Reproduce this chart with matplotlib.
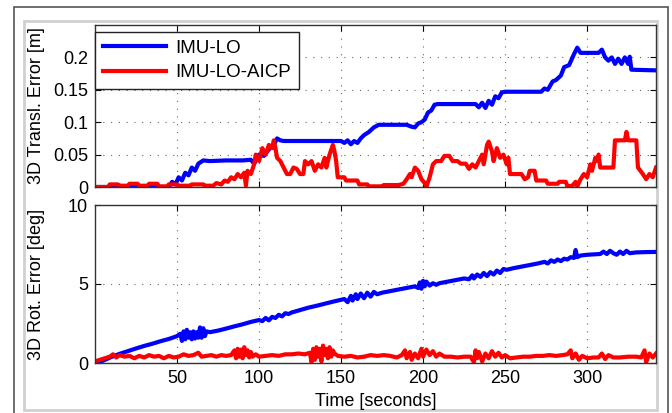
import matplotlib
matplotlib.use("Agg")
import matplotlib.pyplot as plt
import matplotlib.patches as patches

plt.rcParams['font.family'] = ['Liberation Sans', 'DejaVu Sans']
plt.rcParams['font.size'] = 13

# Traslacion 3D (t [s], error [m])
transl_imu_lo = [
    (0, 0), (45, 0), (47, 0.008), (49, 0.004), (51, 0.015), (53, 0.01), (55, 0.022),
    (57, 0.018), (59, 0.03), (61, 0.025), (63, 0.036), (66, 0.041), (70, 0.04),
    (80, 0.041), (90, 0.041), (95, 0.042), (97, 0.036), (100, 0.05), (103, 0.048),
    (106, 0.058), (109, 0.065), (111, 0.075), (113, 0.072), (115, 0.071), (130, 0.071),
    (150, 0.071), (152, 0.068), (154, 0.072), (156, 0.066), (158, 0.071), (160, 0.068),
    (162, 0.075), (164, 0.08), (167, 0.085), (170, 0.092), (173, 0.096), (190, 0.096),
    (193, 0.093), (195, 0.092), (197, 0.098), (199, 0.1), (201, 0.104), (203, 0.115),
    (205, 0.118), (207, 0.127), (209, 0.128), (232, 0.128), (234, 0.123), (236, 0.13),
    (238, 0.122), (240, 0.133), (242, 0.127), (244, 0.14), (246, 0.137), (248, 0.146),
    (250, 0.147), (272, 0.147), (274, 0.152), (276, 0.15), (279, 0.163), (281, 0.165),
    (284, 0.172), (286, 0.185), (289, 0.188), (292, 0.205), (294, 0.215), (296, 0.207),
    (307, 0.207), (309, 0.212), (311, 0.2), (313, 0.195), (315, 0.2), (317, 0.19),
    (319, 0.198), (321, 0.19), (323, 0.2), (325, 0.19), (326, 0.201), (327, 0.181),
    (342, 0.18),
]
transl_imu_lo_aicp = [
    (0, 0), (8, 0), (9, 0.004), (14, 0.004), (15, 0.002), (20, 0.002), (21, 0.005),
    (26, 0.005), (27, 0.002), (32, 0.002), (33, 0.005), (38, 0.005), (39, 0.001),
    (44, 0.001), (45, 0.004), (50, 0.004), (51, 0.002), (58, 0.002), (59, 0.004),
    (66, 0.004), (67, 0.002), (72, 0.002), (74, 0.006), (77, 0.004), (79, 0.01),
    (81, 0.008), (83, 0.015), (85, 0.012), (87, 0.02), (89, 0.015), (91, 0.022),
    (92, 0.002), (93, 0.025), (95, 0.02), (97, 0.035), (98, 0.05), (100, 0.04),
    (102, 0.06), (104, 0.05), (106, 0.065), (108, 0.06), (109, 0.072), (110, 0.06),
    (111, 0.045), (113, 0.04), (115, 0.03), (117, 0.02), (119, 0.02), (121, 0.03),
    (123, 0.028), (125, 0.02), (127, 0.02), (128, 0.04), (130, 0.035), (132, 0.04),
    (134, 0.025), (136, 0.035), (138, 0.03), (140, 0.045), (141, 0.03), (143, 0.05),
    (145, 0.065), (146, 0.055), (147, 0.04), (148, 0.015), (152, 0.015), (153, 0.01),
    (160, 0.01), (161, 0.004), (166, 0.004), (167, 0.001), (175, 0.001), (176, 0.003),
    (185, 0.003), (188, 0.005), (190, 0.012), (192, 0.02), (193, 0.015), (195, 0.03),
    (197, 0.025), (199, 0.012), (201, 0.006), (202, 0), (204, 0.015), (206, 0.035),
    (208, 0.04), (211, 0.04), (213, 0.048), (216, 0.048), (218, 0.04), (221, 0.04),
    (223, 0.036), (226, 0.036), (228, 0.028), (230, 0.035), (232, 0.03), (234, 0.04),
    (236, 0.05), (237, 0.035), (239, 0.065), (240, 0.07), (242, 0.055), (243, 0.04),
    (245, 0.06), (247, 0.045), (249, 0.05), (251, 0.035), (252, 0.045), (253, 0.02),
    (260, 0.02), (262, 0.012), (264, 0.015), (265, 0.025), (268, 0.025), (269, 0.01),
    (275, 0.01), (276, 0.005), (282, 0.005), (283, 0.008), (287, 0.008), (288, 0.001),
    (291, 0.002), (293, 0.008), (294, 0.001), (296, 0.012), (298, 0.02), (300, 0.015),
    (302, 0.035), (303, 0.025), (305, 0.045), (306, 0.04), (307, 0.05), (308, 0.03),
    (316, 0.03), (317, 0.072), (323, 0.072), (324, 0.085), (325, 0.072), (330, 0.072),
    (331, 0.03), (334, 0.02), (336, 0.012), (338, 0.02), (340, 0.015), (342, 0.03),
]

# Rotacion 3D (t [s], error [deg])
rot_imu_lo = [
    (0, 0), (5, 0.15), (10, 0.38), (15, 0.58), (20, 0.75), (25, 0.92), (30, 1.08),
    (35, 1.22), (40, 1.38), (45, 1.52), (50, 1.7), (52, 1.85), (53, 1.4), (54, 2.0),
    (55, 1.5), (56, 2.1), (57, 1.6), (58, 1.95), (59, 1.5), (60, 2.0), (61, 1.55),
    (62, 1.95), (63, 1.6), (64, 2.25), (65, 1.6), (66, 2.2), (67, 1.7), (68, 2.0),
    (70, 1.95), (75, 2.05), (80, 2.18), (85, 2.32), (90, 2.45), (95, 2.6), (100, 2.72),
    (102, 2.65), (104, 2.85), (106, 2.7), (108, 2.92), (110, 2.85), (112, 3.05),
    (114, 2.95), (116, 3.15), (118, 3.1), (120, 3.2), (125, 3.35), (130, 3.5),
    (135, 3.62), (140, 3.75), (145, 3.88), (150, 4.0), (152, 4.05), (154, 3.85),
    (156, 4.25), (157, 3.95), (159, 4.35), (160, 4.05), (162, 4.4), (164, 4.1),
    (166, 4.45), (168, 4.2), (170, 4.5), (172, 4.35), (175, 4.45), (180, 4.55),
    (185, 4.65), (190, 4.75), (195, 4.85), (197, 4.75), (198, 5.1), (199, 4.7),
    (200, 5.2), (201, 4.85), (202, 5.15), (204, 4.9), (206, 5.05), (208, 4.95),
    (210, 5.05), (215, 5.15), (220, 5.25), (225, 5.35), (228, 5.3), (230, 5.55),
    (231, 5.35), (233, 5.6), (235, 5.45), (237, 5.7), (239, 5.5), (241, 5.75),
    (243, 5.6), (245, 5.85), (247, 5.7), (249, 5.95), (251, 5.9), (255, 6.0),
    (260, 6.1), (265, 6.2), (270, 6.3), (274, 6.4), (276, 6.3), (278, 6.5), (280, 6.4),
    (282, 6.55), (284, 6.45), (286, 6.6), (288, 6.55), (290, 6.7), (292, 6.65),
    (293, 7.15), (294, 6.7), (296, 6.8), (300, 6.85), (305, 6.88), (308, 6.9),
    (310, 7.05), (312, 6.9), (314, 7.1), (316, 6.95), (318, 6.85), (320, 7.05),
    (322, 6.9), (324, 7.1), (326, 6.95), (330, 7.0), (336, 7.02), (342, 7.03),
]
rot_imu_lo_aicp = [
    (0, 0.1), (3, 0.2), (6, 0.3), (9, 0.4), (11, 0.55), (13, 0.35), (15, 0.5),
    (18, 0.4), (21, 0.45), (24, 0.3), (27, 0.45), (30, 0.35), (33, 0.5), (36, 0.4),
    (39, 0.45), (42, 0.3), (45, 0.45), (48, 0.35), (51, 0.4), (54, 0.55), (57, 0.45),
    (60, 0.5), (63, 0.65), (65, 0.4), (68, 0.45), (71, 0.5), (74, 0.4), (77, 0.5),
    (80, 0.45), (83, 0.5), (85, 0.8), (86, 0.3), (87, 0.9), (88, 0.4), (89, 0.85),
    (90, 0.3), (91, 1.0), (92, 0.5), (93, 0.8), (94, 0.35), (95, 0.7), (96, 0.4),
    (98, 0.55), (100, 0.4), (104, 0.45), (108, 0.5), (112, 0.45), (116, 0.55),
    (120, 0.55), (124, 0.6), (128, 0.55), (131, 0.65), (132, 0.05), (133, 0.9),
    (134, 0.2), (135, 1.0), (136, 0.4), (137, 0.9), (138, 0.1), (139, 1.1), (140, 0.5),
    (141, 0.9), (142, 0.3), (143, 1.0), (144, 0.4), (145, 0.8), (146, 0.6), (148, 0.45),
    (152, 0.4), (156, 0.45), (160, 0.35), (164, 0.4), (168, 0.5), (172, 0.45),
    (176, 0.5), (180, 0.45), (184, 0.35), (187, 0.5), (189, 0.8), (190, 0.3),
    (192, 0.7), (193, 0.2), (195, 0.6), (197, 0.3), (199, 0.9), (200, 0.4), (202, 0.85),
    (204, 0.5), (206, 0.75), (208, 0.4), (210, 0.6), (213, 0.4), (217, 0.4), (221, 0.35),
    (225, 0.4), (229, 0.4), (231, 0.05), (232, 0.8), (233, 0.3), (234, 0.7), (236, 0.1),
    (238, 0.6), (240, 0.3), (242, 0.75), (244, 0.4), (246, 0.65), (248, 0.35),
    (250, 0.5), (253, 0.3), (257, 0.35), (261, 0.4), (265, 0.4), (269, 0.45),
    (273, 0.45), (277, 0.5), (281, 0.45), (285, 0.5), (288, 0.55), (290, 0.8),
    (291, 0.3), (293, 0.6), (295, 0.2), (297, 0.45), (300, 0.3), (304, 0.35),
    (307, 0.35), (309, 0.6), (311, 0.25), (313, 0.5), (316, 0.35), (320, 0.35),
    (325, 0.4), (330, 0.4), (333, 0.35), (335, 0.8), (336, 0.05), (338, 0.6),
    (340, 0.35), (342, 0.6),
]

x_ticks = [50, 100, 150, 200, 250, 300]
transl_ticks = [0, 0.05, 0.1, 0.15, 0.2]
transl_ticklabels = ['0', '0.05', '0.1', '0.15', '0.2']
rot_ticks = [0, 5, 10]

fig = plt.figure(figsize=(6.72, 4.13), dpi=100)

# marcos exteriores (detras de los ejes)
fig.patches.append(patches.Rectangle((14 / 672, -0.05), 654 / 672, 1.0 - 7 / 413 + 0.05,
                                     transform=fig.transFigure, fill=False,
                                     edgecolor='#555555', linewidth=1.2, zorder=-5))
fig.patches.append(patches.Rectangle((24 / 672, 1 - 410 / 413), 633 / 672, 389 / 413,
                                     transform=fig.transFigure, fill=False,
                                     edgecolor='#d0d0d0', linewidth=2.0, zorder=-5))

ax1 = fig.add_axes([95 / 672, 1 - 187 / 413, 561 / 672, 162 / 413])
ax2 = fig.add_axes([95 / 672, 1 - 363 / 413, 561 / 672, 158 / 413])

for ax in (ax1, ax2):
    ax.set_xlim(0, 342)
    ax.set_xticks(x_ticks)
    ax.grid(True, color='#666666', linestyle=(0, (1, 6)), linewidth=0.8)
    ax.tick_params(direction='in', top=True, right=True, length=4, width=0.8,
                   pad=5, labelsize=13)
    for s in ax.spines.values():
        s.set_color('#333333')
        s.set_linewidth(1.0)

t, v = zip(*transl_imu_lo)
ax1.plot(t, v, color='#0000ff', linewidth=3, label='IMU-LO')
t, v = zip(*transl_imu_lo_aicp)
ax1.plot(t, v, color='#ff0000', linewidth=3, label='IMU-LO-AICP')
ax1.set_ylim(0, 0.25)
ax1.set_yticks(transl_ticks)
ax1.set_yticklabels(transl_ticklabels)
ax1.set_xticklabels([])
ax1.set_ylabel('3D Transl. Error [m]')
ax1.yaxis.set_label_coords(-0.089, 0.5)

leg = ax1.legend(loc='upper left', bbox_to_anchor=(0, 1 - 7 / 162), borderaxespad=0,
                 fancybox=False, framealpha=1, edgecolor='#222222', fontsize=13.5,
                 handlelength=3.4, handletextpad=0.5, labelspacing=0.4,
                 borderpad=0.4)
leg.get_frame().set_linewidth(1.0)

t, v = zip(*rot_imu_lo)
ax2.plot(t, v, color='#0000ff', linewidth=3)
t, v = zip(*rot_imu_lo_aicp)
ax2.plot(t, v, color='#ff0000', linewidth=3)
ax2.set_ylim(0, 10)
ax2.set_yticks(rot_ticks)
ax2.set_ylabel('3D Rot. Error [deg]')
ax2.yaxis.set_label_coords(-0.089, 0.5)
ax2.set_xlabel('Time [seconds]', labelpad=4)

fig.savefig('out.png', dpi=100)
plt.close()
